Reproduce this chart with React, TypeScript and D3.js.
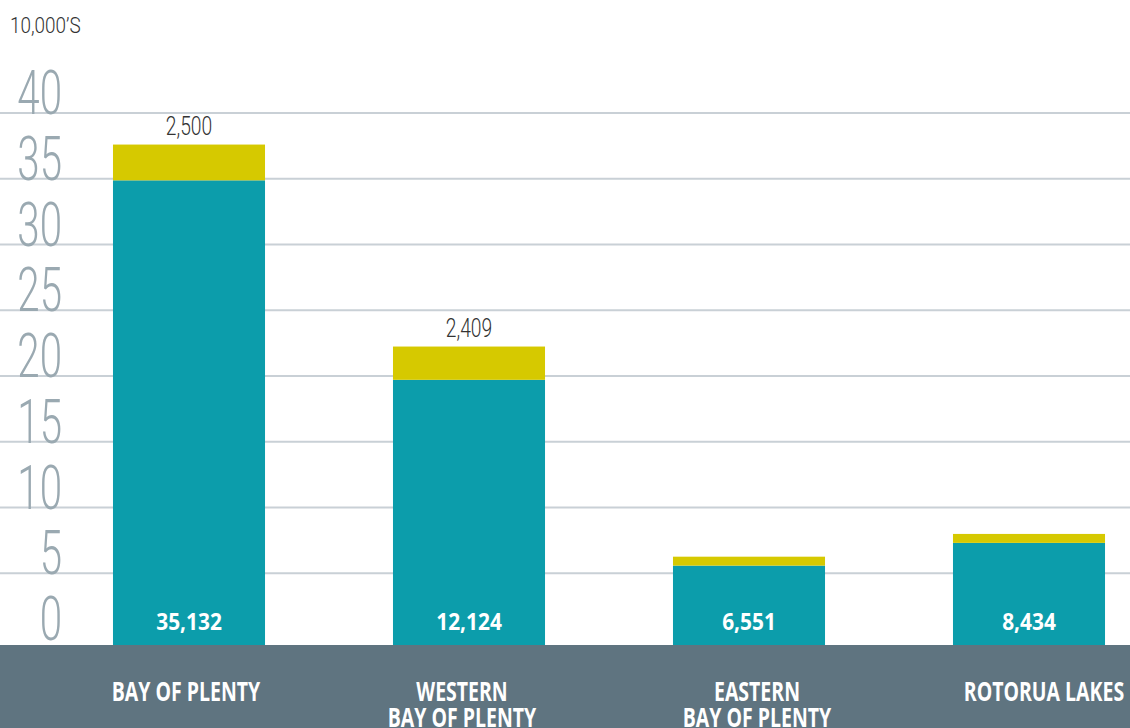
import React from "react";
import * as d3 from "d3";

const categories: string[][] = [
  ["BAY OF PLENTY"],
  ["WESTERN", "BAY OF PLENTY"],
  ["EASTERN", "BAY OF PLENTY"],
  ["ROTORUA LAKES"],
];
const baseValues = [34.88, 19.71, 5.58, 7.31];
const addedValues = [2.72, 2.53, 0.68, 0.68];
const baseLabels = ["35,132", "12,124", "6,551", "8,434"];
const addedLabels = ["2,500", "2,409", "", ""];
const yTicks = [0, 5, 10, 15, 20, 25, 30, 35, 40];
const unitLabel = "10,000’S";

// layout: horizontal nudge of the category captions relative to bar centres
const captionShift = [-3, -7, 8, 15];

const W = 1130;
const H = 728;
const BAND_TOP = 645;
const TEAL = "#0c9dab";
const YELLOW = "#d6c900";
const BAND = "#5f7480";
const GRID = "#c9d0d6";
const TICK = "#9aa9b1";

export default function App() {
  const x = d3
    .scaleBand<number>()
    .domain(categories.map((_, i) => i))
    .range([49, 1169])
    .paddingInner(0.457)
    .paddingOuter(0.2285);
  const y = d3.scaleLinear().domain([0, 40]).range([639, 113]);

  return (
    <svg
      width={W}
      height={H}
      style={{ position: "absolute", left: 0, top: 0, background: "#fff" }}
    >
      {yTicks
        .filter((t) => t > 0)
        .map((t) => (
          <line
            key={"g" + t}
            x1={0}
            x2={W}
            y1={y(t)}
            y2={y(t)}
            stroke={GRID}
            strokeWidth={2.2}
          />
        ))}
      {yTicks.map((t) => (
        <text
          key={"t" + t}
          transform={`translate(62,${y(t) + 1}) scale(0.65,1)`}
          textAnchor="end"
          fontFamily="Roboto"
          fontWeight={300}
          fontSize={62}
          fill={TICK}
        >
          {t}
        </text>
      ))}
      <text
        transform={`translate(10,33) scale(0.84,1)`}
        fontFamily="Roboto"
        fontWeight={300}
        fontSize={22.5}
        fill="#333"
      >
        {unitLabel}
      </text>
      {categories.map((_, i) => {
        const x0 = x(i)!;
        const bw = x.bandwidth();
        const cx = x0 + bw / 2;
        const b = baseValues[i];
        const a = addedValues[i];
        return (
          <g key={"b" + i}>
            <rect x={x0} y={y(b)} width={bw} height={BAND_TOP - y(b)} fill={TEAL} />
            <rect x={x0} y={y(b + a)} width={bw} height={y(b) - y(b + a)} fill={YELLOW} />
            {addedLabels[i] && (
              <text
                transform={`translate(${cx},${y(b + a) - 10}) scale(0.77,1)`}
                textAnchor="middle"
                fontFamily="Roboto"
                fontWeight={300}
                fontSize={25}
                fill="#333"
              >
                {addedLabels[i]}
              </text>
            )}
            <text
              transform={`translate(${cx},630) scale(0.87,1)`}
              textAnchor="middle"
              fontFamily="Open Sans"
              fontWeight={700}
              fontSize={24}
              fill="#fff"
            >
              {baseLabels[i]}
            </text>
          </g>
        );
      })}
      <rect x={0} y={BAND_TOP} width={W} height={H - BAND_TOP} fill={BAND} />
      {categories.map((lines, i) => {
        const cx = x(i)! + x.bandwidth() / 2 + captionShift[i];
        return lines.map((ln, j) => (
          <text
            key={"c" + i + "-" + j}
            transform={`translate(${cx},${701 + j * 26}) scale(0.75,1)`}
            textAnchor="middle"
            fontFamily="Open Sans"
            fontWeight={700}
            fontSize={26}
            fill="#fff"
          >
            {ln}
          </text>
        ));
      })}
    </svg>
  );
}
